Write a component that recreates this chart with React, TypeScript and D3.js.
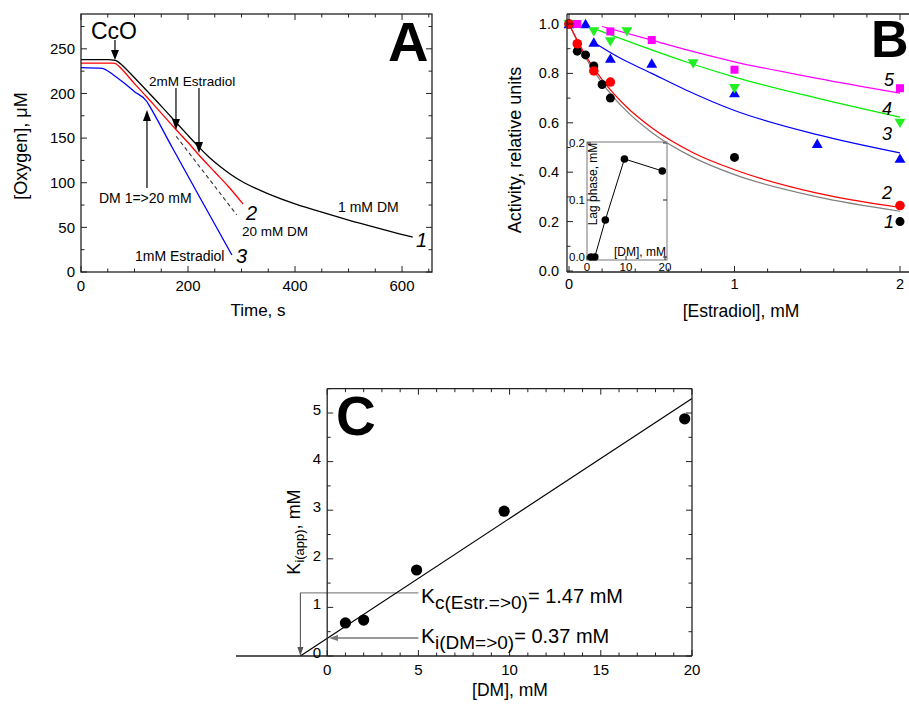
import React from "react";
import * as d3 from "d3";

const FONT = "'Liberation Sans', Arial, Helvetica, sans-serif";
const AX = "#222";

// ---------------- Panel A: oxygen traces ----------------
const tBlack = [0, 60, 66, 75, 90, 120, 150, 180, 200, 220, 240, 260, 280, 300, 350, 400, 450, 500, 550, 600, 620];
const o2Black = [238, 238, 237, 233, 224, 205, 186, 166, 153, 140, 128, 118, 109, 101, 87, 76, 67, 58, 50, 42, 39];
const tRed = [0, 60, 66, 75, 100, 123, 150, 180, 200, 222, 250, 275, 303];
const o2Red = [234, 234, 233, 228, 211, 196, 178, 158, 145, 130, 112, 96, 76];
const tBlue = [0, 40, 48, 60, 80, 100, 123, 128, 170, 230, 282];
const o2Blue = [229, 228, 226, 221, 212, 202, 191, 186, 140, 75, 19];
const tDash = [178, 291];
const o2Dash = [152, 64];
const xTicksA = [0, 200, 400, 600];
const yTicksA = [0, 50, 100, 150, 200, 250];

// ---------------- Panel B: activity vs estradiol ----------------
const estrBlack = [0, 0.05, 0.1, 0.15, 0.2, 0.25, 1, 2];
const actBlack = [1.0, 0.89, 0.875, 0.83, 0.755, 0.7, 0.46, 0.2];
const estrRed = [0, 0.05, 0.15, 0.25, 2];
const actRed = [1.0, 0.92, 0.81, 0.765, 0.265];
const estrBlue = [0, 0.1, 0.15, 0.25, 0.5, 1, 1.5, 2];
const actBlue = [1.0, 1.0, 0.925, 0.86, 0.84, 0.72, 0.515, 0.455];
const estrGreen = [0, 0.15, 0.25, 0.35, 0.75, 1, 2];
const actGreen = [1.0, 0.97, 0.93, 0.97, 0.84, 0.74, 0.6];
const estrMag = [0.05, 0.25, 0.5, 1, 2];
const actMag = [1.0, 0.97, 0.935, 0.815, 0.74];

const fitGrayX = [0, 0.1, 0.2, 0.35, 0.5, 0.75, 1, 1.5, 2];
const fitGrayY = [1, 0.865, 0.762, 0.646, 0.561, 0.46, 0.39, 0.3, 0.242];
const fitRedX = [0, 0.1, 0.2, 0.35, 0.5, 0.75, 1, 1.5, 2];
const fitRedY = [1, 0.873, 0.775, 0.663, 0.58, 0.479, 0.41, 0.315, 0.257];
const fitBlueX = [0.15, 0.3, 0.5, 0.7, 1, 1.5, 2];
const fitBlueY = [0.925, 0.865, 0.8, 0.735, 0.65, 0.552, 0.478];
const fitGreenX = [0.175, 0.5, 0.7, 1, 1.5, 2];
const fitGreenY = [0.975, 0.895, 0.848, 0.785, 0.7, 0.623];
const fitMagX = [0.2, 0.5, 0.7, 1, 1.5, 2];
const fitMagY = [0.99, 0.935, 0.897, 0.847, 0.78, 0.72];
const xTicksB = [0, 1, 2];
const yTicksB = [0, 0.2, 0.4, 0.6, 0.8, 1.0];

// inset: lag phase vs DM
const dmInset = [1, 2, 4.7, 9.6, 19.3];
const lagInset = [0, 0, 0.065, 0.172, 0.151];
const xTicksInset = [0, 10, 20];
const yTicksInset = [0, 0.1, 0.2];

// ---------------- Panel C: Ki(app) vs DM ----------------
const dmC = [1, 2, 4.9, 9.7, 19.6];
const kiC = [0.68, 0.74, 1.77, 2.98, 4.88];
const fitCX = [-1.47, 20];
const fitCY = [0, 5.3];
const xTicksC = [0, 5, 10, 15, 20];
const yTicksC = [0, 1, 2, 3, 4, 5];

// ---------------- scales ----------------
const xA = d3.scaleLinear().domain([0, 656]).range([81, 432]);
const yA = d3.scaleLinear().domain([0, 289]).range([272, 14]);
const xB = d3.scaleLinear().domain([0, 2]).range([569, 900]);
const yB = d3.scaleLinear().domain([0, 1]).range([271, 24]);
const xI = d3.scaleLinear().domain([0, 20]).range([587, 665]);
const yI = d3.scaleLinear().domain([0, 0.2]).range([257, 143]);
const xC = d3.scaleLinear().domain([-5, 20]).range([236, 692]);
const yC = d3.scaleLinear().domain([0, 5.5]).range([656, 388.7]);

type Sc = d3.ScaleLinear<number, number>;

function zip(xs: number[], ys: number[]): [number, number][] {
  return xs.map((x, i) => [x, ys[i]] as [number, number]);
}

function linePath(xs: number[], ys: number[], sx: Sc, sy: Sc, curve: any = d3.curveMonotoneX) {
  return (
    d3
      .line<[number, number]>()
      .x((d) => sx(d[0]))
      .y((d) => sy(d[1]))
      .curve(curve)(zip(xs, ys)) || ""
  );
}

function TicksX({ scale, vals, y, len }: { scale: Sc; vals: number[]; y: number; len: number }) {
  return (
    <g stroke={AX} strokeWidth={1}>
      {vals.map((v, i) => (
        <line key={i} x1={scale(v)} x2={scale(v)} y1={y} y2={y + len} />
      ))}
    </g>
  );
}
function TicksY({ scale, vals, x, len }: { scale: Sc; vals: number[]; x: number; len: number }) {
  return (
    <g stroke={AX} strokeWidth={1}>
      {vals.map((v, i) => (
        <line key={i} x1={x} x2={x + len} y1={scale(v)} y2={scale(v)} />
      ))}
    </g>
  );
}

function Arrow({ x1, y1, x2, y2, color = "#000", head = 9, half = 3.5, sw = 1.2 }: any) {
  const dx = x2 - x1,
    dy = y2 - y1,
    L = Math.hypot(dx, dy);
  const ux = dx / L,
    uy = dy / L;
  const bx = x2 - ux * head,
    by = y2 - uy * head;
  const px = -uy,
    py = ux;
  return (
    <g>
      <line x1={x1} y1={y1} x2={bx} y2={by} stroke={color} strokeWidth={sw} />
      <path d={`M${x2},${y2}L${bx + px * half},${by + py * half}L${bx - px * half},${by - py * half}Z`} fill={color} />
    </g>
  );
}

function minorVals(start: number, end: number, step: number, majors: number[]) {
  const out: number[] = [];
  for (let v = start; v <= end + 1e-9; v += step) {
    const r = Math.round(v * 1000) / 1000;
    if (!majors.some((m) => Math.abs(m - r) < 1e-6)) out.push(r);
  }
  return out;
}

function triUp(x: number, y: number, s = 5.2) {
  return `M${x},${y - s}L${x + s * 1.05},${y + s * 0.8}L${x - s * 1.05},${y + s * 0.8}Z`;
}
function triDown(x: number, y: number, s = 5.2) {
  return `M${x},${y + s}L${x + s * 1.05},${y - s * 0.8}L${x - s * 1.05},${y - s * 0.8}Z`;
}

function PanelA() {
  const minX = minorVals(0, 650, 50, xTicksA);
  const minY = minorVals(0, 289, 25, yTicksA);
  const [l, r] = xA.range();
  const [b, t] = yA.range();
  return (
    <g>
      {/* curves */}
      <path d={linePath(tBlue, o2Blue, xA, yA)} fill="none" stroke="#0000ff" strokeWidth={1.3} />
      <path d={linePath(tRed, o2Red, xA, yA)} fill="none" stroke="#ff0000" strokeWidth={1.3} />
      <path d={linePath(tDash, o2Dash, xA, yA, d3.curveLinear)} fill="none" stroke="#333" strokeWidth={1.1} strokeDasharray="4,3" />
      <path d={linePath(tBlack, o2Black, xA, yA, d3.curveBasis)} fill="none" stroke="#000" strokeWidth={1.3} />
      {/* frame */}
      <rect x={l} y={t} width={r - l} height={b - t} fill="none" stroke={AX} strokeWidth={1.3} />
      <TicksX scale={xA} vals={xTicksA} y={b} len={-6} />
      <TicksX scale={xA} vals={minX} y={b} len={-3.5} />
      <TicksX scale={xA} vals={xTicksA} y={t} len={6} />
      <TicksX scale={xA} vals={minX} y={t} len={3.5} />
      <TicksY scale={yA} vals={yTicksA} x={l} len={6} />
      <TicksY scale={yA} vals={minY} x={l} len={3.5} />
      <TicksY scale={yA} vals={yTicksA} x={r} len={-6} />
      <TicksY scale={yA} vals={minY} x={r} len={-3.5} />
      {/* tick labels */}
      <g fontSize={15} fill="#000">
        {xTicksA.map((v) => (
          <text key={v} x={xA(v)} y={b + 19} textAnchor="middle">
            {v}
          </text>
        ))}
        {yTicksA.map((v) => (
          <text key={v} x={l - 6} y={yA(v) + 5.3} textAnchor="end">
            {v}
          </text>
        ))}
      </g>
      {/* axis titles */}
      <text x={258} y={316} fontSize={17} textAnchor="middle">
        Time, s
      </text>
      <text transform="translate(27,146) rotate(-90)" fontSize={18} textAnchor="middle">
        [Oxygen], μM
      </text>
      {/* panel letter */}
      <text x={388} y={61} fontSize={56} fontWeight="bold">
        A
      </text>
      {/* annotations */}
      <text x={91} y={39} fontSize={23}>
        CcO
      </text>
      <Arrow x1={xA(63.5)} y1={yA(260)} x2={xA(63.5)} y2={yA(237.5)} head={10} half={4} />
      <text x={149} y={86} fontSize={13.5}>
        2mM Estradiol
      </text>
      <Arrow x1={xA(177.5)} y1={yA(206)} x2={xA(177.5)} y2={yA(159)} head={11} half={4} />
      <Arrow x1={xA(220.5)} y1={yA(206)} x2={xA(220.5)} y2={yA(133.3)} head={11} half={4} />
      <Arrow x1={xA(123.3)} y1={yA(94)} x2={xA(123.3)} y2={yA(181.5)} head={11} half={4} />
      <text x={99} y={203} fontSize={14}>
        DM 1=&gt;20 mM
      </text>
      <text x={135} y={261} fontSize={14}>
        1mM Estradiol
      </text>
      <text x={236} y={263} fontSize={20} fontStyle="italic">
        3
      </text>
      <text x={246} y={220} fontSize={20} fontStyle="italic">
        2
      </text>
      <text x={242} y={236} fontSize={13.5}>
        20 mM DM
      </text>
      <text x={338} y={212} fontSize={14}>
        1 mM DM
      </text>
      <text x={416} y={247} fontSize={20} fontStyle="italic">
        1
      </text>
    </g>
  );
}

function PanelB() {
  const minX = minorVals(0, 2, 0.2, xTicksB);
  const minY = minorVals(0, 1, 0.1, yTicksB);
  const l = 567,
    r = 909,
    b = 272,
    t = 14;
  const iL = 587,
    iR = 667,
    iT = 142,
    iB = 260;
  return (
    <g>
      {/* inset */}
      <rect x={iL} y={iT} width={iR - iL} height={iB - iT} fill="#fff" stroke="#777" strokeWidth={1} />
      <TicksY scale={yI} vals={yTicksInset} x={iL} len={4} />
      <TicksY scale={yI} vals={yTicksInset} x={iR} len={-4} />
      <TicksX scale={xI} vals={xTicksInset} y={iB} len={-4} />
      <path d={linePath(dmInset, lagInset, xI, yI, d3.curveLinear)} fill="none" stroke="#000" strokeWidth={1} />
      {dmInset.map((d, i) => (
        <circle key={i} cx={xI(d)} cy={yI(lagInset[i])} r={3.8} fill="#000" />
      ))}
      <g fontSize={11.5}>
        {yTicksInset.map((v) => (
          <text key={v} x={iL - 2} y={yI(v) + 4} textAnchor="end">
            {v.toFixed(1)}
          </text>
        ))}
        {xTicksInset.map((v) => (
          <text key={v} x={xI(v)} y={271} textAnchor="middle">
            {v}
          </text>
        ))}
      </g>
      <text x={640} y={256} fontSize={12} textAnchor="middle">
        [DM], mM
      </text>
      <text transform="translate(597,184) rotate(-90)" fontSize={12} textAnchor="middle">
        Lag phase, mM
      </text>

      {/* fit curves */}
      <path d={linePath(fitGrayX, fitGrayY, xB, yB)} fill="none" stroke="#808080" strokeWidth={1.2} />
      <path d={linePath(fitRedX, fitRedY, xB, yB)} fill="none" stroke="#ff0000" strokeWidth={1.2} />
      <path d={linePath(fitBlueX, fitBlueY, xB, yB)} fill="none" stroke="#0000ff" strokeWidth={1.2} />
      <path d={linePath(fitGreenX, fitGreenY, xB, yB)} fill="none" stroke="#00ee00" strokeWidth={1.2} />
      <path d={linePath(fitMagX, fitMagY, xB, yB)} fill="none" stroke="#ff00ff" strokeWidth={1.2} />

      {/* markers */}
      {estrBlue.map((d, i) => (
        <path key={"bl" + i} d={triUp(xB(d), yB(actBlue[i]))} fill="#0000ff" />
      ))}
      {estrGreen.map((d, i) => (
        <path key={"gr" + i} d={triDown(xB(d), yB(actGreen[i]))} fill="#22ee22" />
      ))}
      {estrMag.map((d, i) => (
        <rect key={"mg" + i} x={xB(d) - 4} y={yB(actMag[i]) - 4} width={8} height={8} fill="#ff00ff" />
      ))}
      {estrBlack.map((d, i) => (
        <circle key={"bk" + i} cx={xB(d)} cy={yB(actBlack[i])} r={4.5} fill="#000" />
      ))}
      {estrRed.map((d, i) => (
        <circle key={"rd" + i} cx={xB(d)} cy={yB(actRed[i])} r={4.8} fill="#ff0000" />
      ))}

      {/* frame */}
      <line x1={l} x2={l} y1={t} y2={b} stroke={AX} strokeWidth={1.3} />
      <line x1={l} x2={r} y1={b} y2={b} stroke={AX} strokeWidth={1.3} />
      <line x1={l} x2={r} y1={t} y2={t} stroke={AX} strokeWidth={1.3} />
      <TicksX scale={xB} vals={xTicksB} y={b} len={-6} />
      <TicksX scale={xB} vals={minX} y={b} len={-3.5} />
      <TicksX scale={xB} vals={xTicksB} y={t} len={6} />
      <TicksX scale={xB} vals={minX} y={t} len={3.5} />
      <TicksY scale={yB} vals={yTicksB} x={l} len={6} />
      <TicksY scale={yB} vals={minY} x={l} len={3.5} />
      <g fontSize={14.5}>
        {xTicksB.map((v) => (
          <text key={v} x={xB(v)} y={b + 17} textAnchor="middle">
            {v}
          </text>
        ))}
        {yTicksB.map((v) => (
          <text key={v} x={l - 8} y={yB(v) + 5} textAnchor="end">
            {v.toFixed(1)}
          </text>
        ))}
      </g>
      <text x={741} y={317} fontSize={17.5} textAnchor="middle">
        [Estradiol], mM
      </text>
      <text transform="translate(521,150) rotate(-90)" fontSize={18} textAnchor="middle">
        Activity, relative units
      </text>
      <text x={871} y={57} fontSize={52} fontWeight="bold">
        B
      </text>
      <g fontSize={18} fontStyle="italic">
        <text x={884} y={86}>5</text>
        <text x={882} y={115}>4</text>
        <text x={882} y={140}>3</text>
        <text x={882} y={199}>2</text>
        <text x={884} y={228}>1</text>
      </g>
    </g>
  );
}

function PanelC() {
  const minX = minorVals(1, 19, 1, xTicksC);
  const minY = minorVals(0, 5.5, 0.5, yTicksC);
  const l = xC(0),
    r = xC(20),
    t = yC(5.5),
    b = yC(0);
  return (
    <g>
      {/* annotation lines */}
      <line x1={xC(-1.47)} x2={xC(5)} y1={yC(1.3)} y2={yC(1.3)} stroke="#888" strokeWidth={1.3} />
      <Arrow x1={xC(-1.47)} y1={yC(1.3)} x2={xC(-1.47)} y2={yC(0)} color="#555" head={9} half={3} sw={1.1} />
      <Arrow x1={xC(5)} y1={yC(0.37)} x2={xC(0.1)} y2={yC(0.37)} color="#777" head={9} half={3} sw={1.3} />
      {/* regression */}
      <path d={linePath(fitCX, fitCY, xC, yC, d3.curveLinear)} fill="none" stroke="#000" strokeWidth={1.2} />
      {dmC.map((d, i) => (
        <circle key={i} cx={xC(d)} cy={yC(kiC[i])} r={5.6} fill="#000" />
      ))}
      {/* frame */}
      <line x1={l} x2={l} y1={t} y2={b} stroke={AX} strokeWidth={1.3} />
      <line x1={l} x2={r} y1={t} y2={t} stroke={AX} strokeWidth={1.3} />
      <line x1={r} x2={r} y1={t} y2={b} stroke={AX} strokeWidth={1.3} />
      <line x1={xC(-5)} x2={r} y1={b} y2={b} stroke={AX} strokeWidth={1.3} />
      <TicksX scale={xC} vals={xTicksC} y={b} len={-6} />
      <TicksX scale={xC} vals={minX} y={b} len={-3.5} />
      <TicksX scale={xC} vals={xTicksC} y={t} len={6} />
      <TicksX scale={xC} vals={minX} y={t} len={3.5} />
      <TicksY scale={yC} vals={yTicksC} x={l} len={6} />
      <TicksY scale={yC} vals={minY} x={l} len={3.5} />
      <TicksY scale={yC} vals={yTicksC} x={r} len={-6} />
      <TicksY scale={yC} vals={minY} x={r} len={-3.5} />
      <g fontSize={15}>
        {xTicksC.map((v) => (
          <text key={v} x={xC(v)} y={b + 19} textAnchor="middle">
            {v}
          </text>
        ))}
        {yTicksC.map((v) => (
          <text key={v} x={l - 6} y={yC(v) + 2} textAnchor="end">
            {v}
          </text>
        ))}
      </g>
      <text x={510} y={696} fontSize={17.5} textAnchor="middle">
        [DM], mM
      </text>
      <text transform="translate(300,532) rotate(-90)" fontSize={18} textAnchor="middle">
        K
        <tspan fontSize={13} dy={4}>
          i(app)
        </tspan>
        <tspan fontSize={18} dy={-4}>
          , mM
        </tspan>
      </text>
      <text x={336} y={435} fontSize={55} fontWeight="bold">
        C
      </text>
      <text x={421} y={603} fontSize={21}>
        K
        <tspan fontSize={19} dy={6}>
          c(Estr.=&gt;0)
        </tspan>
        <tspan fontSize={20} dy={-6}>
          = 1.47 mM
        </tspan>
      </text>
      <text x={421} y={643} fontSize={21}>
        K
        <tspan fontSize={19} dy={6}>
          i(DM=&gt;0)
        </tspan>
        <tspan fontSize={20} dy={-6}>
          = 0.37 mM
        </tspan>
      </text>
    </g>
  );
}

export default function App() {
  return (
    <svg
      width={909}
      height={707}
      viewBox="0 0 909 707"
      style={{ position: "absolute", left: 0, top: 0, background: "#fff", fontFamily: FONT }}
      fontFamily={FONT}
    >
      <rect x={0} y={0} width={909} height={707} fill="#fff" />
      <PanelA />
      <PanelB />
      <PanelC />
    </svg>
  );
}
